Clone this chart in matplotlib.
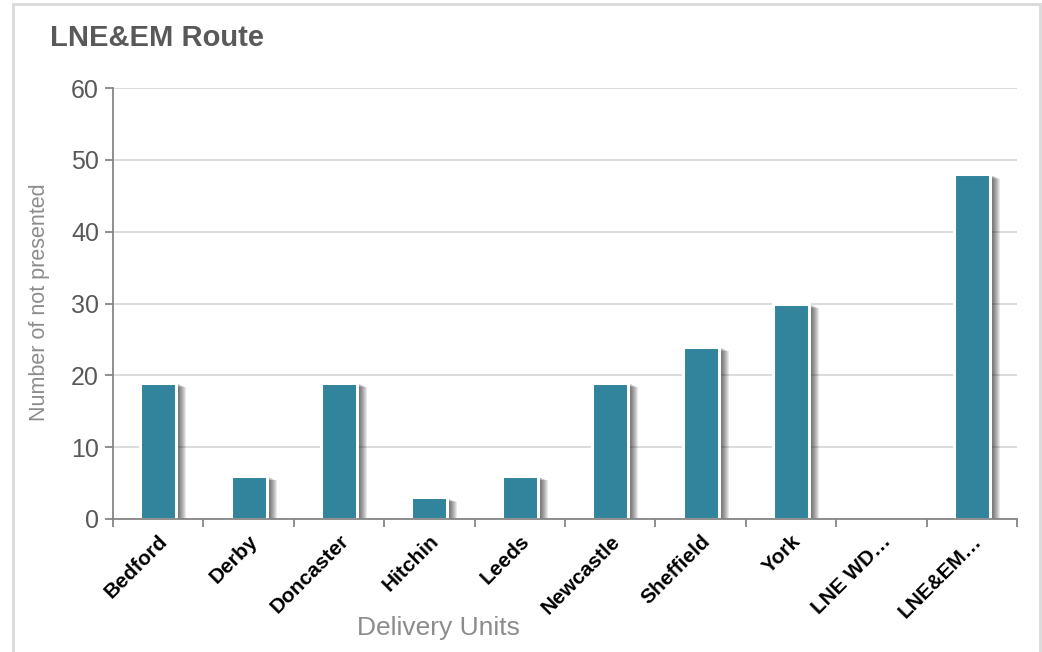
import matplotlib
matplotlib.use("Agg")
import matplotlib.pyplot as plt
import matplotlib.patheffects as pe
from matplotlib.patches import Rectangle
import numpy as np

# Data
units = ["Bedford", "Derby", "Doncaster", "Hitchin", "Leeds", "Newcastle",
         "Sheffield", "York", "LNE WD\u2026", "LNE&EM\u2026"]
not_presented = [19, 6, 19, 3, 6, 19, 24, 30, 0, 48]
y_ticks = [0, 10, 20, 30, 40, 50, 60]

title = "LNE&EM Route"
x_title = "Delivery Units"
y_title = "Number of not presented"

bar_color = "#31849B"
grid_color = "#D9D9D9"
axis_color = "#868686"
text_gray = "#595959"
label_gray = "#8C8C8C"

plt.rcParams["font.family"] = ["Liberation Sans", "DejaVu Sans"]

fig = plt.figure(figsize=(10.42, 6.52), dpi=100)
fig.patch.set_facecolor("white")

# outer chart frame
fig.add_artist(Rectangle((13 / 1042, -0.05), (1040 - 13) / 1042, 1.05 - 4 / 652,
                         transform=fig.transFigure, fill=False,
                         edgecolor="#D9D9D9", linewidth=2.0))

ax = fig.add_axes([113 / 1042, 133 / 652, (1017 - 113) / 1042, (519 - 88) / 652])

x = np.arange(len(units))
px = 72 / 100  # one pixel in points
shadow = [pe.SimplePatchShadow(offset=(d * px, -d * 0.45 * px),
                               shadow_rgbFace="black", alpha=0.085)
          for d in range(2, 11)]
bars = ax.bar(x, not_presented, width=0.40, color=bar_color,
              edgecolor="white", linewidth=2.2, zorder=3)
for b, v in zip(bars, not_presented):
    if v > 0:
        b.set_path_effects(shadow + [pe.Normal()])
    else:
        b.set_linewidth(0)

ax.set_xlim(-0.5, len(units) - 0.5)
ax.set_ylim(0, 60)
ax.set_yticks(y_ticks)
ax.yaxis.grid(True, color=grid_color, linewidth=1.3, zorder=0)
ax.set_axisbelow(True)

for s in ("top", "right"):
    ax.spines[s].set_visible(False)
for s in ("left", "bottom"):
    ax.spines[s].set_color(axis_color)
    ax.spines[s].set_linewidth(1.3)
    ax.spines[s].set_zorder(4)

# category boundary ticks on x
ax.set_xticks(np.arange(-0.5, len(units)), minor=False)
ax.set_xticklabels([""] * (len(units) + 1))
ax.set_xticks(x, minor=True)
ax.set_xticklabels(units, minor=True, rotation=45, ha="right",
                   rotation_mode="anchor", fontsize=15, fontweight="bold",
                   color="black")
ax.tick_params(axis="x", which="major", length=6, width=1.3, color=axis_color)
ax.tick_params(axis="x", which="minor", length=0, pad=9)
ax.tick_params(axis="y", length=6, width=1.3, color=axis_color,
               labelsize=18, labelcolor=text_gray, pad=4)

ax.set_xlabel(x_title, fontsize=19, color=label_gray)
ax.xaxis.set_label_coords((438 - 113) / (1017 - 113), -(628 - 519) / (519 - 88),
                          transform=ax.transAxes)
ax.xaxis.label.set_va("center")
ax.set_ylabel(y_title, fontsize=15.5, color=label_gray)
ax.yaxis.set_label_coords(-(113 - 40) / (1017 - 113), (519 - 302) / (519 - 88),
                          transform=ax.transAxes)
ax.yaxis.label.set_va("center")

fig.text(50 / 1042, 1 - 38 / 652, title, fontsize=21, fontweight="bold",
         color=text_gray, ha="left", va="center")

fig.savefig("out.png", dpi=100, facecolor="white")
